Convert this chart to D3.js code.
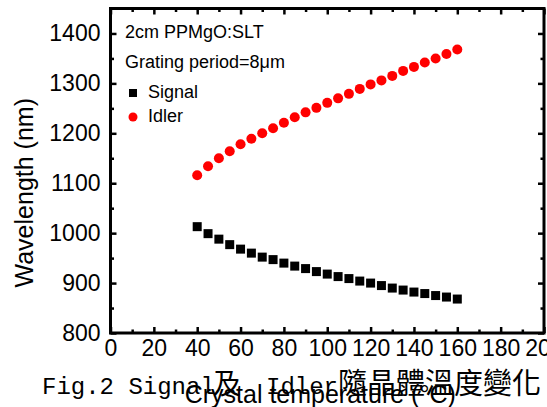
<!DOCTYPE html>
<html>
<head>
<meta charset="utf-8">
<script src="https://cdn.jsdelivr.net/npm/d3@7"></script>
<style>
  body { margin: 0; background: #fff; }
  svg { display: block; }
</style>
</head>
<body>
<svg id="chart" width="547" height="407"></svg>
<script>
// data
const temps = [40, 45, 50, 55, 60, 65, 70, 75, 80, 85, 90, 95, 100,
               105, 110, 115, 120, 125, 130, 135, 140, 145, 150, 155, 160];
const signal = [1013, 999, 988, 977, 968, 960, 952, 947, 940, 934, 929, 923, 918,
                913, 909, 904, 900, 895, 890, 886, 882, 879, 875, 872, 868];
const idler = [1116, 1134, 1150, 1164, 1178, 1189, 1200, 1210, 1221, 1232, 1242, 1251, 1261,
               1270, 1279, 1289, 1298, 1306, 1315, 1325, 1333, 1342, 1350, 1359, 1368];

const xMajor = [0, 20, 40, 60, 80, 100, 120, 140, 160, 180, 200];
const xMinor = [10, 30, 50, 70, 90, 110, 130, 150, 170, 190];
const yMajor = [800, 900, 1000, 1100, 1200, 1300, 1400];
const yMinor = [850, 950, 1050, 1150, 1250, 1350];

const legendText = ["2cm PPMgO:SLT", "Grating period=8\u03bcm"];
const seriesNames = ["Signal", "Idler"];

const svg = d3.select("#chart");
const plotL = 110.5, plotR = 544, plotT = 8.5, plotB = 333;

const x = d3.scaleLinear().domain([0, 200]).range([plotL, plotR]);
const y = d3.scaleLinear().domain([800, 1450]).range([plotB, plotT]);

const sans = "'Liberation Sans', Arial, sans-serif";

// axes: inward ticks on all four sides
function styleAxis(g, labels) {
  g.select(".domain").remove();
  g.selectAll(".tick line").attr("stroke", "#000").attr("stroke-width", 2.5);
  g.selectAll(".tick text")
    .attr("fill", "#000")
    .style("font-family", sans)
    .style("font-size", "23px");
  if (!labels) g.selectAll(".tick text").remove();
}

svg.append("g").attr("transform", `translate(0,${plotB})`)
  .call(d3.axisBottom(x).tickValues(xMajor).tickSize(-6).tickPadding(7).tickFormat(d3.format("d")))
  .call(g => styleAxis(g, true));
svg.append("g").attr("transform", `translate(0,${plotB})`)
  .call(d3.axisBottom(x).tickValues(xMinor).tickSize(-3.5))
  .call(g => styleAxis(g, false));
svg.append("g").attr("transform", `translate(0,${plotT})`)
  .call(d3.axisTop(x).tickValues(xMajor).tickSize(-6))
  .call(g => styleAxis(g, false));
svg.append("g").attr("transform", `translate(0,${plotT})`)
  .call(d3.axisTop(x).tickValues(xMinor).tickSize(-3.5))
  .call(g => styleAxis(g, false));

svg.append("g").attr("transform", `translate(${plotL},0)`)
  .call(d3.axisLeft(y).tickValues(yMajor).tickSize(-6).tickPadding(10).tickFormat(d3.format("d")))
  .call(g => styleAxis(g, true));
svg.append("g").attr("transform", `translate(${plotL},0)`)
  .call(d3.axisLeft(y).tickValues(yMinor).tickSize(-3.5))
  .call(g => styleAxis(g, false));
svg.append("g").attr("transform", `translate(${plotR},0)`)
  .call(d3.axisRight(y).tickValues(yMajor).tickSize(-6))
  .call(g => styleAxis(g, false));
svg.append("g").attr("transform", `translate(${plotR},0)`)
  .call(d3.axisRight(y).tickValues(yMinor).tickSize(-3.5))
  .call(g => styleAxis(g, false));

// frame
svg.append("rect")
  .attr("x", plotL).attr("y", plotT)
  .attr("width", plotR - plotL).attr("height", plotB - plotT)
  .attr("fill", "none").attr("stroke", "#000").attr("stroke-width", 3);

// series
const pts = temps.map((t, i) => ({ t, s: signal[i], id: idler[i] }));
const sq = 9;

svg.append("g").selectAll("rect")
  .data(pts).enter().append("rect")
  .attr("x", d => x(d.t) - sq / 2)
  .attr("y", d => y(d.s) - sq / 2)
  .attr("width", sq).attr("height", sq)
  .attr("fill", "#000");

svg.append("g").selectAll("circle")
  .data(pts).enter().append("circle")
  .attr("cx", d => x(d.t))
  .attr("cy", d => y(d.id))
  .attr("r", 5)
  .attr("fill", "#ff0000");

// legend / annotations
const leg = svg.append("g").style("font-family", sans).style("font-size", "18px").attr("fill", "#000");
leg.append("text").attr("x", 125).attr("y", 38).text(legendText[0]);
leg.append("text").attr("x", 125).attr("y", 68).text(legendText[1]);
leg.append("rect").attr("x", 129).attr("y", 89).attr("width", 8).attr("height", 8).attr("fill", "#000");
leg.append("text").attr("x", 148).attr("y", 98).text(seriesNames[0]);
leg.append("circle").attr("cx", 133).attr("cy", 117).attr("r", 4.5).attr("fill", "#ff0000");
leg.append("text").attr("x", 148).attr("y", 122).text(seriesNames[1]);

// axis titles
svg.append("text")
  .attr("transform", `translate(33,${(plotT + plotB) / 2 + 22}) rotate(-90)`)
  .attr("text-anchor", "middle")
  .style("font-family", sans).style("font-size", "25px")
  .text("Wavelength (nm)");

svg.append("text")
  .attr("x", (plotL + plotR) / 2 - 7).attr("y", 403)
  .attr("text-anchor", "middle")
  .style("font-family", sans).style("font-size", "25px")
  .text("Crystal temperature (\u00b0C)");

// figure caption (overlaps the x title, as in the scan)
const cap = svg.append("g").attr("fill", "#000");
const mono = "'Liberation Mono', 'Courier New', monospace";
const cjk = "'Noto Sans CJK TC', 'Noto Sans CJK SC', sans-serif";
cap.append("text").attr("x", 42).attr("y", 394)
  .style("font-family", mono).style("font-size", "24px").text("Fig.2 Signal");
cap.append("text").attr("x", 213).attr("y", 394)
  .style("font-family", cjk).style("font-size", "28px").text("\u53ca");
cap.append("text").attr("x", 266).attr("y", 394)
  .style("font-family", mono).style("font-size", "24px").text("Idler");
cap.append("text").attr("x", 338).attr("y", 394)
  .style("font-family", cjk).style("font-size", "29px").text("\u96a8\u6676\u9ad4\u6eab\u5ea6\u8b8a\u5316");
</script>
</body>
</html>
